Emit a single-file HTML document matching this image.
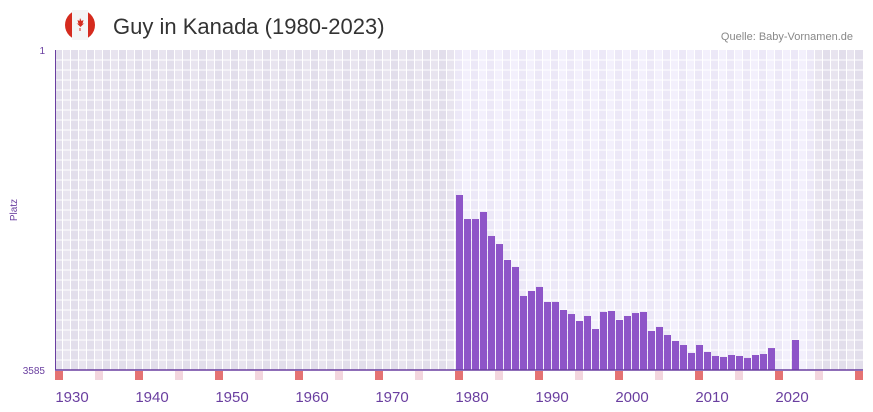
<!DOCTYPE html>
<html><head><meta charset="utf-8"><style>
body{margin:0;background:#fff;font-family:"Liberation Sans",sans-serif}
svg{display:block}
</style></head><body>
<svg id="c" width="873" height="412" viewBox="0 0 873 412">
<g>
<circle cx="80" cy="25" r="15" fill="#d52b1e"/>
<rect x="72" y="10" width="16" height="30" fill="#f4f4f4"/>
<path d="M80 18 l1.5 3 2-1 -1 4 2-1 -4 4 -4-4 2 1 -1-4 2 1z" fill="#d52b1e"/>
<rect x="79.5" y="28" width="1" height="3" fill="#d52b1e"/>
</g>
<text x="113" y="34" font-size="22" fill="#333">Guy in Kanada (1980-2023)</text>
<text x="853" y="40" font-size="11" fill="#888" text-anchor="end">Quelle: Baby-Vornamen.de</text>
<text x="45" y="54" font-size="10" fill="#6a3fa0" text-anchor="end">1</text>
<text x="45" y="374" font-size="10" fill="#6a3fa0" text-anchor="end">3585</text>
<text transform="translate(17,210) rotate(-90)" font-size="10" fill="#6a3fa0" text-anchor="middle">Platz</text>
<g id="bg"></g><g id="bars"></g><g id="xt"></g>
<line x1="55" y1="370" x2="863" y2="370" stroke="#6a3fa0" stroke-width="1.5"/>
<line x1="55.5" y1="50" x2="55.5" y2="370" stroke="#6a3fa0" stroke-width="1"/>
</svg>
<script>
const years=[1978,1979,1980,1981,1982,1983,1984,1985,1986,1987,1988,1989,1990,1991,1992,1993,1994,1995,1996,1997,1998,1999,2000,2001,2002,2003,2004,2005,2006,2007,2008,2009,2010,2011,2012,2013,2014,2015,2016,2017,2020];
const ranks=[1625,1894,1894,1815,2084,2174,2353,2431,2756,2700,2655,2823,2823,2913,2958,3036,2980,3126,2935,2924,3025,2980,2947,2935,3148,3103,3193,3260,3305,3394,3305,3383,3428,3439,3417,3428,3450,3417,3406,3339,3249];
const tickYears=[1930,1940,1950,1960,1970,1980,1990,2000,2010,2020];
const minYear=1928,maxYear=2029,minRank=1,maxRank=3585;
const x0=55,cw=8,pTop=50,pBot=370;
const X=y=>x0+(y-minYear)*cw;
const Y=r=>pTop+(r-minRank)/(maxRank-minRank)*(pBot-pTop);
const NS="http://www.w3.org/2000/svg";
function mk(t,a,p){const e=document.createElementNS(NS,t);for(const k in a)e.setAttribute(k,a[k]);p.appendChild(e);return e;}
const bg=document.getElementById('bg');
for(let y=minYear;y<maxYear;y++){
  const active=y>=1978&&y<=2022;
  const c=active?(y%2?'#f3f0fc':'#ece8f7'):(y%2?'#e8e4ef':'#e2deeb');
  const r=mk('rect',{x:X(y),y:pTop,width:cw,height:pBot-pTop,fill:c},bg);
  
  
  const d=y-minYear;
  if(d%5===0){
    const m=mk('rect',{x:X(y),y:371,width:cw,height:9,fill:d%10===0?'#e57373':'#f3d6de'},bg);
    
    
  }
}
for(let y=minYear+1;y<maxYear;y++)mk('line',{x1:X(y)-0.5,x2:X(y)-0.5,y1:pTop,y2:pBot,stroke:'#fff','stroke-width':1},bg);
for(let v=pTop+10;v<pBot;v+=10)mk('line',{x1:x0,x2:863,y1:v,y2:v,stroke:'#fff','stroke-width':1},bg);
const bars=document.getElementById('bars');
years.forEach((y,i)=>{
  const yy=Y(ranks[i]);
  const b=mk('rect',{x:X(y)+1,y:yy,width:cw-1,height:pBot-yy,fill:'#8e55c8'},bars);
  
  
});
const xt=document.getElementById('xt');
tickYears.forEach(y=>{
  const t=mk('text',{x:X(y)+1,y:402,'font-size':15,fill:'#6a3fa0','text-anchor':'middle'},xt);
  t.textContent=y;
  
  
});
</script>
</body></html>
